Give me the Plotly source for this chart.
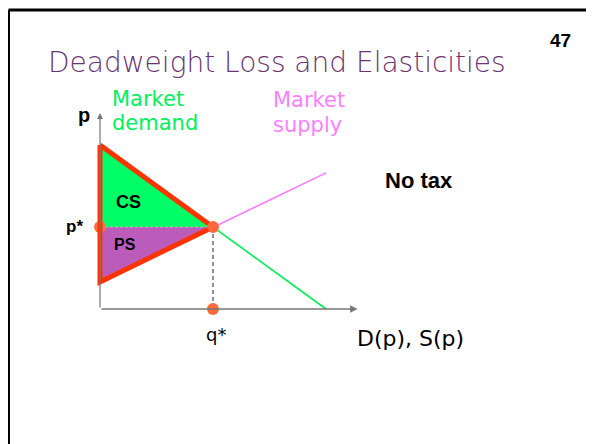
import plotly.graph_objects as go

# ---- data (economic units) ----
demand_q = [0, 1, 2]
demand_p = [2, 1, 0]
supply_q = [0, 1, 2]
supply_p = [0.33, 1, 1.66]
q_star = 1
p_star = 1
q_axis_end = 2.28
p_axis_end = 2.39

# page is offset by the 8px body margin, so the figure is 8px smaller
OFF = 8
W, H = 594 - OFF, 444 - OFF
# pixel layout of the economic axes (page pixels)
ox, oy = 100 - OFF, 309 - OFF
sx, sy = 113, 82        # pixels per unit

def px(x):
    return (x - OFF) / W

def py(y):
    return 1 - (y - OFF) / H

fig = go.Figure()

# CS area
fig.add_trace(go.Scatter(x=[0, q_star, 0, 0], y=[demand_p[0], p_star, p_star, demand_p[0]],
                         fill="toself", fillcolor="#00FF66", mode="none", hoverinfo="skip"))
# PS area
fig.add_trace(go.Scatter(x=[0, q_star, 0, 0], y=[supply_p[0], p_star, p_star, supply_p[0]],
                         fill="toself", fillcolor="#BB5CBB", mode="none", hoverinfo="skip"))
# supply line
fig.add_trace(go.Scatter(x=supply_q, y=supply_p, mode="lines",
                         line=dict(color="#FF77FF", width=1.6), hoverinfo="skip"))
# demand line
fig.add_trace(go.Scatter(x=demand_q, y=demand_p, mode="lines",
                         line=dict(color="#00EE55", width=1.6), hoverinfo="skip"))
# dashed guides
fig.add_trace(go.Scatter(x=[0, q_star], y=[p_star, p_star], mode="lines",
                         line=dict(color="#BBBBBB", width=1.2, dash="3px,2px"), hoverinfo="skip"))
fig.add_trace(go.Scatter(x=[q_star, q_star], y=[p_star, 0], mode="lines",
                         line=dict(color="#555555", width=1.3, dash="4px,3px"), hoverinfo="skip"))
# p* dot (behind the outline)
fig.add_trace(go.Scatter(x=[0], y=[p_star], mode="markers",
                         marker=dict(color="#FF7043", size=12), hoverinfo="skip"))
# red outline
fig.add_trace(go.Scatter(x=[0, q_star, 0, 0], y=[demand_p[0], p_star, supply_p[0], demand_p[0]],
                         mode="lines", line=dict(color="#FF3300", width=5), hoverinfo="skip"))
# equilibrium and q* dots
fig.add_trace(go.Scatter(x=[q_star, q_star], y=[p_star, 0], mode="markers",
                         marker=dict(color="#FF6A3D", size=12), hoverinfo="skip"))

# axes arrows
fig.add_annotation(x=q_axis_end, y=0, ax=0, ay=0, xref="x", yref="y", axref="x", ayref="y",
                   text="", showarrow=True, arrowhead=2, arrowsize=1, arrowwidth=1.5,
                   arrowcolor="#777777")
fig.add_annotation(x=0, y=p_axis_end, ax=0, ay=0, xref="x", yref="y", axref="x", ayref="y",
                   text="", showarrow=True, arrowhead=2, arrowsize=1, arrowwidth=1.2,
                   arrowcolor="#777777")

LBL = "DejaVu Sans, Verdana, sans-serif"
ARIAL = "Liberation Sans, Arial, sans-serif"

def label(text, x, y, size, color="black", bold=False, family=LBL, xanchor="center"):
    fig.add_annotation(x=px(x), y=py(y), xref="paper", yref="paper", text=text,
                       showarrow=False, xanchor=xanchor, yanchor="middle",
                       font=dict(family=family, size=size, color=color,
                                 weight="bold" if bold else "normal"))

label("Deadweight Loss and Elasticities", 46, 62, 28, color="#6B3470",
      family="DejaVu Sans Light, DejaVu Sans, sans-serif", xanchor="left")
label("47", 560, 40, 19, bold=True, family=ARIAL)
label("Market", 110, 99, 21, color="#00F060", xanchor="left")
label("demand", 110, 123, 21, color="#00F060", xanchor="left")
label("Market", 271, 100, 21, color="#FF80FF", xanchor="left")
label("supply", 271, 125, 21, color="#FF80FF", xanchor="left")
label("p", 84, 115, 20, bold=True, family=ARIAL)
label("p*", 74, 226, 17, bold=True, family=ARIAL)
label("CS", 128, 202, 18, bold=True, family=ARIAL)
label("PS", 125, 244, 16, bold=True, family=ARIAL)
label("q*", 216, 334, 18)
label("No tax", 419, 180, 22, bold=True, family=ARIAL)
label("D(p), S(p)", 410, 338, 22)

# slide frame: only the left and top edges fall inside the view
fx, fy = px(8.5), py(10)
fig.add_shape(type="line", xref="paper", yref="paper", x0=fx, x1=fx, y0=0, y1=fy,
              line=dict(color="black", width=3))
fig.add_shape(type="line", xref="paper", yref="paper", x0=fx, x1=1, y0=fy, y1=fy,
              line=dict(color="black", width=3))

fig.update_layout(
    width=W, height=H, margin=dict(l=0, r=0, t=0, b=0),
    paper_bgcolor="white", plot_bgcolor="white", showlegend=False,
    xaxis=dict(range=[-ox / sx, (W - ox) / sx], visible=False, fixedrange=True),
    yaxis=dict(range=[-(H - oy) / sy, oy / sy], visible=False, fixedrange=True),
)

fig.write_html("out.html", config={"displayModeBar": False},
               post_script="document.documentElement.style.overflow='hidden';"
                           "document.body.style.overflow='hidden';")
